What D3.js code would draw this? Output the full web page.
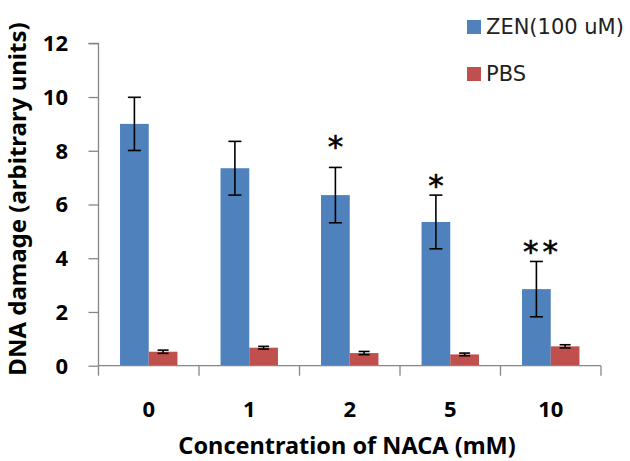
<!DOCTYPE html>
<html><head><meta charset="utf-8">
<script src="https://cdn.jsdelivr.net/npm/d3@7"></script>
<style>body{margin:0;background:#fff}svg{display:block}</style>
</head><body>
<svg id="c" width="630" height="461"></svg>
<script>
const categories = ["0","1","2","5","10"];
const seriesNames = ["ZEN(100 uM)","PBS"];
const zenValues = [9.0, 7.35, 6.35, 5.35, 2.85];
const zenErrors = [0.99, 1.0, 1.03, 1.0, 1.03];
const pbsValues = [0.52, 0.67, 0.47, 0.42, 0.72];
const pbsErrors = [0.06, 0.05, 0.06, 0.05, 0.06];
const starLabels = ["", "", "*", "*", "**"];
const starValues = [null, null, 8.5, 7.03, 4.56];
const yTicks = [0,2,4,6,8,10,12];
const colors = ["#4F81BD","#C0504D"];

(function(){
const svg = d3.select("#c");
const mLeft = 98.5, mRight = 601, mTop = 43.3, mBottom = 365.7;
const x = d3.scaleBand().domain(categories).range([mLeft, mRight]);
const inner = d3.scaleBand().domain([0,1]).range([0, x.bandwidth()]).paddingOuter(0.75);
const y = d3.scaleLinear().domain([0,12]).range([mBottom, mTop]);
const axisColor = "#868686";

// bars
const series = [zenValues, pbsValues];
const errs = [zenErrors, pbsErrors];
series.forEach((vals, si) => {
  svg.append("g").selectAll("rect").data(vals).join("rect")
    .attr("x", (d,i) => x(categories[i]) + inner(si))
    .attr("width", inner.bandwidth())
    .attr("y", d => y(d))
    .attr("height", d => y(0) - y(d))
    .attr("fill", colors[si]);
});

// axes
const yAxis = d3.axisLeft(y).tickValues(yTicks).tickSize(10).tickFormat("");
const gy = svg.append("g").attr("transform", `translate(${mLeft},0)`).call(yAxis);
gy.selectAll("path,line").attr("stroke", axisColor).attr("stroke-width", 1.3);
gy.select(".domain").attr("d", `M-10,${y(12)}H0V${y(0)}`);
svg.append("g").selectAll("text").data(yTicks).join("text")
  .attr("x", 68).attr("y", d => y(d)).attr("dy", "0.36em")
  .attr("text-anchor", "end")
  .style("font-family", "'Noto Sans', sans-serif").style("font-weight", "bold").style("font-size", "22px")
  .attr("fill", "#000").text(d => d);

const xAxis = d3.axisBottom(x).tickSize(0).tickFormat("");
const gx = svg.append("g").attr("transform", `translate(0,${mBottom})`).call(xAxis);
gx.select(".domain").attr("stroke", axisColor).attr("stroke-width", 1.3).attr("d", `M${mLeft},0H${mRight}`);
const boundaries = categories.map(c => x(c)).concat([x(categories[categories.length-1]) + x.bandwidth()]);
gx.selectAll("line.b").data(boundaries).join("line").attr("class","b")
  .attr("x1", d => d).attr("x2", d => d).attr("y1", 0).attr("y2", 10)
  .attr("stroke", axisColor).attr("stroke-width", 1.3);
svg.append("g").selectAll("text").data(categories).join("text")
  .attr("x", d => x(d) + x.bandwidth()/2).attr("y", 417)
  .attr("text-anchor", "middle")
  .style("font-family", "'Noto Sans', sans-serif").style("font-weight", "bold").style("font-size", "22px")
  .text(d => d);

// error bars
series.forEach((vals, si) => {
  const capW = si === 0 ? 13 : 11;
  const g = svg.append("g").attr("stroke", "#000").attr("stroke-width", 1.6);
  vals.forEach((v, i) => {
    const cx = x(categories[i]) + inner(si) + inner.bandwidth()/2;
    const e = errs[si][i];
    g.append("line").attr("x1", cx).attr("x2", cx).attr("y1", y(v+e)).attr("y2", y(v-e));
    g.append("line").attr("x1", cx-capW/2).attr("x2", cx+capW/2).attr("y1", y(v+e)).attr("y2", y(v+e));
    g.append("line").attr("x1", cx-capW/2).attr("x2", cx+capW/2).attr("y1", y(v-e)).attr("y2", y(v-e));
  });
});

// significance stars
const sg = svg.append("g");
starLabels.forEach((d, i) => {
  if (!d) return;
  sg.append("text")
    .attr("x", x(categories[i]) + inner(0) + inner.bandwidth()/2 + (d.length > 1 ? 6 : 0))
    .attr("y", y(starValues[i]))
    .attr("dy", "0.62em")
    .attr("text-anchor", "middle")
    .attr("letter-spacing", d.length > 1 ? "4px" : "0px")
    .style("font-family", "'DejaVu Sans', sans-serif").style("font-size", "31px")
    .attr("stroke", "#000").attr("stroke-width", 0.6)
    .text(d);
});

// titles
svg.append("text")
  .attr("transform", `translate(26,199) rotate(-90)`)
  .attr("text-anchor", "middle")
  .style("font-family", "'Noto Sans', sans-serif").style("font-weight", "bold").style("font-size", "24px")
  .text("DNA damage (arbitrary units)");
svg.append("text")
  .attr("x", 347).attr("y", 454)
  .attr("text-anchor", "middle")
  .style("font-family", "'Noto Sans', sans-serif").style("font-weight", "bold").style("font-size", "23.5px")
  .text("Concentration of NACA (mM)");

// legend
const lg = svg.append("g");
seriesNames.forEach((n, i) => {
  lg.append("rect").attr("x", 467).attr("y", 20 + i*47).attr("width", 14).attr("height", 14).attr("fill", colors[i]);
  lg.append("text").attr("x", 486).attr("y", 34 + i*47)
    .style("font-family", "'DejaVu Sans', sans-serif").style("font-size", "21px")
    .attr("fill", "#222").text(n);
});
})();
</script>
</body></html>
